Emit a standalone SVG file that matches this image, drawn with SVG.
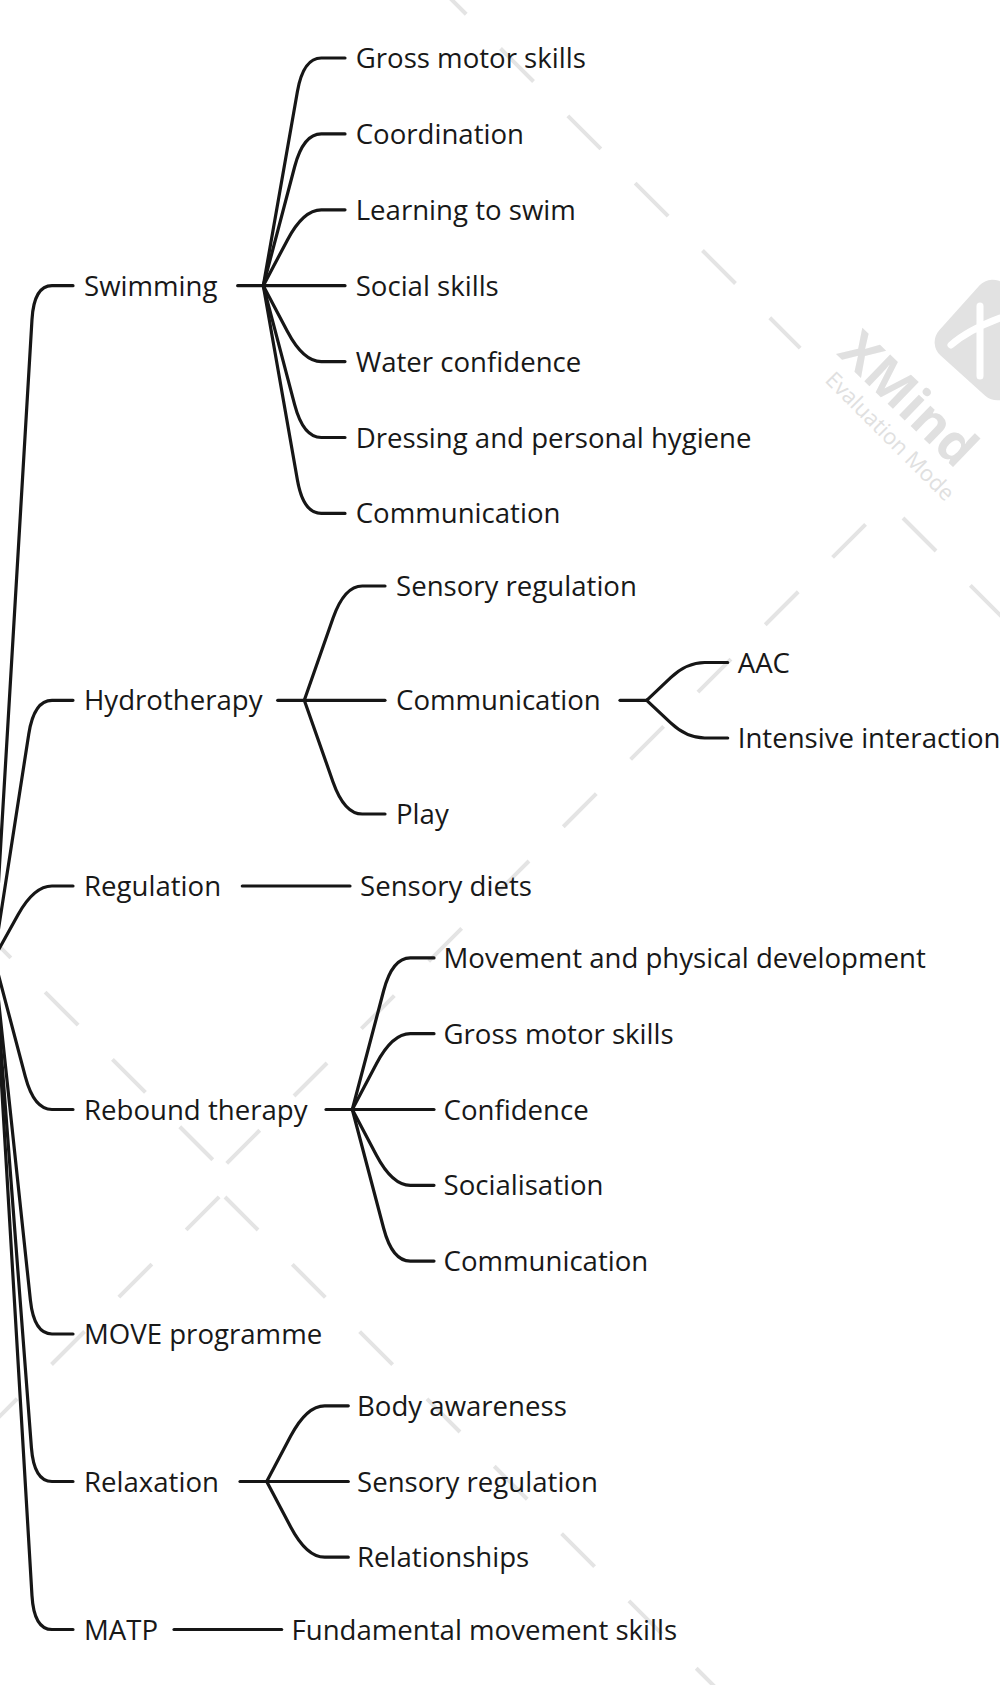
<svg xmlns="http://www.w3.org/2000/svg" width="1000" height="1685" viewBox="0 0 1000 1685">
<style>
.c{fill:none;stroke:#161616;stroke-width:3.2;stroke-linecap:round;stroke-linejoin:round}
.t{font-family:"Open Sans","Noto Sans","Liberation Sans",sans-serif;font-size:27.6px;fill:#181818}
.w{fill:none;stroke:#e4e4e4;stroke-width:4;stroke-linecap:butt;stroke-dasharray:46.7 48.5}
.wt{font-family:"Open Sans","Liberation Sans",sans-serif;fill:#e0e0e0}
</style>
<rect width="1000" height="1685" fill="#ffffff"/>
<g id="watermark">
<path class="w" d="M 433.2 -18.8 L 800.2 348.2"/>
<path class="w" d="M 903 518 L 1040 655"/>
<path class="w" d="M 226.7 1163.3 L 867.2 522.8"/>
<path class="w" d="M -22.2 924.8 L 214.5 1161.5"/>
<path class="w" d="M 225 1197 L 760 1732"/>
<path class="w" d="M -15.8 1431.8 L 219.7 1196.3"/>
<rect x="947" y="292" width="96" height="96" rx="18" fill="#e2e2e2" transform="rotate(42 995 340)"/>
<path d="M 980 306 L 980 376 M 951 345 Q 968 330 1000 318" fill="none" stroke="#ffffff" stroke-width="7" stroke-linecap="round"/>
<text class="wt" x="836" y="354" font-size="52" font-weight="bold" transform="rotate(44 836 354)">XMind</text>
<text class="wt" x="824" y="381" font-size="22" transform="rotate(45 824 381)">Evaluation Mode</text>
</g>
<g id="connectors">
<path class="c" d="M -6 958 L 31.98 319.64 Q 34 285.7 52 285.7 L 73 285.7"/>
<path class="c" d="M -6 958 L 28.78 733.9 Q 34 700.3 52 700.3 L 73 700.3"/>
<path class="c" d="M -6 958 L 18.03 914.75 Q 34 886 52 886 L 73 886"/>
<path class="c" d="M -6 958 L 25.32 1076.63 Q 34 1109.5 52 1109.5 L 73 1109.5"/>
<path class="c" d="M -6 958 L 30.4 1300.19 Q 34 1334 52 1334 L 73 1334"/>
<path class="c" d="M -6 958 L 31.41 1447.6 Q 34 1481.5 52 1481.5 L 73 1481.5"/>
<path class="c" d="M -6 958 L 31.98 1595.56 Q 34 1629.5 52 1629.5 L 73 1629.5"/>
<path class="c" d="M 237.7 285.7 L 345 285.7"/>
<path class="c" d="M 263.3 285.7 L 297.42 91.49 Q 303.3 58 321.3 58 L 345 58"/>
<path class="c" d="M 263.3 285.7 L 294.64 166.77 Q 303.3 133.9 321.3 133.9 L 345 133.9"/>
<path class="c" d="M 263.3 285.7 L 287.45 239.88 Q 303.3 209.8 321.3 209.8 L 345 209.8"/>
<path class="c" d="M 263.3 285.7 L 287.45 331.52 Q 303.3 361.6 321.3 361.6 L 345 361.6"/>
<path class="c" d="M 263.3 285.7 L 294.64 404.63 Q 303.3 437.5 321.3 437.5 L 345 437.5"/>
<path class="c" d="M 263.3 285.7 L 297.42 479.91 Q 303.3 513.4 321.3 513.4 L 345 513.4"/>
<path class="c" d="M 277.7 700.3 L 385 700.3"/>
<path class="c" d="M 304.3 700.3 L 333.07 618.09 Q 344.3 586 362.3 586 L 385 586"/>
<path class="c" d="M 304.3 700.3 L 333.02 781.92 Q 344.3 814 362.3 814 L 385 814"/>
<path class="c" d="M 620 700.3 L 646.7 700.3"/>
<path class="c" d="M 646.7 700.3 L 670.7 677.6 Q 686.7 662.5 704.7 662.5 L 727.7 662.5"/>
<path class="c" d="M 646.7 700.3 L 670.7 722.9 Q 686.7 738 704.7 738 L 727.7 738"/>
<path class="c" d="M 242.3 886 L 350 886"/>
<path class="c" d="M 326 1109.5 L 434 1109.5"/>
<path class="c" d="M 352.3 1109.5 L 383.63 990.77 Q 392.3 957.9 410.3 957.9 L 434 957.9"/>
<path class="c" d="M 352.3 1109.5 L 376.43 1063.77 Q 392.3 1033.7 410.3 1033.7 L 434 1033.7"/>
<path class="c" d="M 352.3 1109.5 L 376.43 1155.23 Q 392.3 1185.3 410.3 1185.3 L 434 1185.3"/>
<path class="c" d="M 352.3 1109.5 L 383.63 1228.23 Q 392.3 1261.1 410.3 1261.1 L 434 1261.1"/>
<path class="c" d="M 240 1481.5 L 348.3 1481.5"/>
<path class="c" d="M 266.7 1481.5 L 290.7 1436.05 Q 306.7 1405.8 324.7 1405.8 L 348.3 1405.8"/>
<path class="c" d="M 266.7 1481.5 L 290.7 1526.95 Q 306.7 1557.2 324.7 1557.2 L 348.3 1557.2"/>
<path class="c" d="M 174 1629.5 L 281.7 1629.5"/>
</g>
<g id="n-swimming"><text class="t" x="84" y="295.7">Swimming</text></g>
<g id="n-gross1"><text class="t" x="355.7" y="68">Gross motor skills</text></g>
<g id="n-coord"><text class="t" x="355.7" y="143.9">Coordination</text></g>
<g id="n-learn"><text class="t" x="355.7" y="219.8">Learning to swim</text></g>
<g id="n-social"><text class="t" x="355.7" y="295.7">Social skills</text></g>
<g id="n-water"><text class="t" x="355.7" y="371.6">Water confidence</text></g>
<g id="n-dress"><text class="t" x="355.7" y="447.5">Dressing and personal hygiene</text></g>
<g id="n-comm1"><text class="t" x="355.7" y="523.4">Communication</text></g>
<g id="n-hydro"><text class="t" x="84" y="710.3">Hydrotherapy</text></g>
<g id="n-sensreg1"><text class="t" x="396" y="596">Sensory regulation</text></g>
<g id="n-comm2"><text class="t" x="396" y="710.3">Communication</text></g>
<g id="n-play"><text class="t" x="396" y="824">Play</text></g>
<g id="n-aac"><text class="t" x="737.7" y="672.5">AAC</text></g>
<g id="n-intensive"><text class="t" x="737.7" y="748">Intensive interaction</text></g>
<g id="n-regulation"><text class="t" x="84" y="896">Regulation</text></g>
<g id="n-diets"><text class="t" x="360" y="896">Sensory diets</text></g>
<g id="n-rebound"><text class="t" x="84" y="1119.5">Rebound therapy</text></g>
<g id="n-movement"><text class="t" x="443.5" y="967.9">Movement and physical development</text></g>
<g id="n-gross2"><text class="t" x="443.5" y="1043.7">Gross motor skills</text></g>
<g id="n-confidence"><text class="t" x="443.5" y="1119.5">Confidence</text></g>
<g id="n-social2"><text class="t" x="443.5" y="1195.3">Socialisation</text></g>
<g id="n-comm3"><text class="t" x="443.5" y="1271.1">Communication</text></g>
<g id="n-move"><text class="t" x="84" y="1344">MOVE programme</text></g>
<g id="n-relax"><text class="t" x="84" y="1491.5">Relaxation</text></g>
<g id="n-body"><text class="t" x="357" y="1415.8">Body awareness</text></g>
<g id="n-sensreg2"><text class="t" x="357" y="1491.5">Sensory regulation</text></g>
<g id="n-relationships"><text class="t" x="357" y="1567.2">Relationships</text></g>
<g id="n-matp"><text class="t" x="84" y="1639.5">MATP</text></g>
<g id="n-fms"><text class="t" x="291.5" y="1639.5">Fundamental movement skills</text></g>
</svg>
